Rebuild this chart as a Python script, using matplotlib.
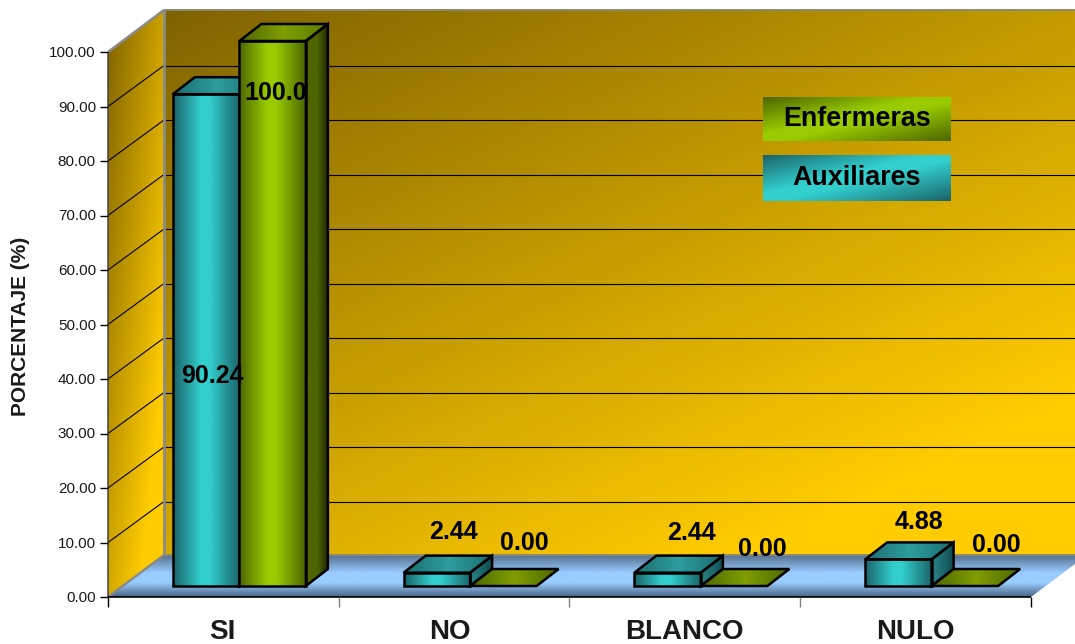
"""Grouped pseudo-3D bar chart of survey responses per staff group."""
import matplotlib
matplotlib.use("Agg")
import matplotlib.pyplot as plt
import numpy as np
from matplotlib.colors import LinearSegmentedColormap
from matplotlib.patches import Polygon

plt.rcParams["font.family"] = ["Liberation Sans", "DejaVu Sans"]

categories = ["SI", "NO", "BLANCO", "NULO"]
auxiliares = [90.24, 2.44, 2.44, 4.88]
enfermeras = [100.0, 0.0, 0.0, 0.0]
auxiliares_text = ["90.24", "2.44", "2.44", "4.88"]
enfermeras_text = ["100.0", "0.00", "0.00", "0.00"]
y_ticks = [0, 10, 20, 30, 40, 50, 60, 70, 80, 90, 100]
y_title = "PORCENTAJE (%)"
legend_names = ["Enfermeras", "Auxiliares"]

# layout, in figure pixels
W, H = 1075, 644
LEFT, BASE = 108, 597
CAT_W = 230.75
UNIT = 5.45
WALL_DX, WALL_DY = 56, 42
GRID_DY = 41
BAR_DX, BAR_DY = 22, 17
BAR_W = 66.5
BAR_SHIFT, BAR_BASE = 16, 586

CYAN = ("#1a6468", "#33cfcf", "#33cfcf", "#1a6468")
CYAN_SIDE = ("#2a8284", "#1c686c", "#0f4a4e")
CYAN_TOP = ("#1c6c70", "#2c9e9e", "#1c6c70")
GREEN = ("#4d6600", "#99cc00", "#99cc00", "#4d6600")
GREEN_SIDE = ("#4d6600", "#4d6600", "#202a00")
GREEN_TOP = ("#4d6600", "#7f9f00", "#5c7a00")
GREEN_FLAT = ("#4d6600", "#7f9f00", "#4d6600")
BAND_STOPS = [0, 0.42, 0.55, 1]


def px(x):
    return (x - LEFT) / CAT_W


def py(y):
    return (BASE - y) / UNIT


fig = plt.figure(figsize=(W / 100, H / 100), dpi=100)
ax = fig.add_axes([0, 0, 1, 1])
ax.axis("off")


def shade(points, colors, wx=1.0, wy=0.0, z=1, stops=None):
    """Fill a polygon (pixel coords) with a linear gradient; wy runs downwards."""
    xy = np.array([(px(a), py(b)) for a, b in points])
    u, v = np.meshgrid(np.linspace(0, 1, 128), np.linspace(0, 1, 128))
    t = np.clip(wx * u + wy * v, 0, 1)
    pos = stops if stops else np.linspace(0, 1, len(colors))
    cmap = LinearSegmentedColormap.from_list("g", list(zip(pos, colors)))
    patch = Polygon(xy, closed=True, fc="none", ec="none", zorder=z)
    ax.add_patch(patch)
    im = ax.imshow(t, cmap=cmap, vmin=0, vmax=1, origin="upper", aspect="auto",
                   interpolation="bilinear", zorder=z,
                   extent=(xy[:, 0].min(), xy[:, 0].max(), xy[:, 1].min(), xy[:, 1].max()))
    im.set_clip_path(patch)


def outline(points, z, color="black", lw=1.8):
    xy = [(px(a), py(b)) for a, b in points]
    ax.add_patch(Polygon(xy, closed=True, fc="none", ec=color, lw=lw, zorder=z, joinstyle="miter"))


def segment(x0, y0, x1, y1, z=3, color="black", lw=0.8):
    ax.plot([px(x0), px(x1)], [py(y0), py(y1)], color=color, lw=lw, zorder=z, solid_capstyle="butt")


def draw_bar(x, value, front, side, top, flat, z):
    height = value * UNIT
    y_top = BAR_BASE - height
    face = [(x, BAR_BASE), (x + BAR_W, BAR_BASE), (x + BAR_W, y_top), (x, y_top)]
    lid = [(x, y_top), (x + BAR_W, y_top), (x + BAR_W + BAR_DX, y_top - BAR_DY), (x + BAR_DX, y_top - BAR_DY)]
    if value == 0:
        shade(lid, flat, z=z)
        outline(lid, z + 0.5)
        return
    flank = [(x + BAR_W, BAR_BASE), (x + BAR_W + BAR_DX, BAR_BASE - BAR_DY),
             (x + BAR_W + BAR_DX, y_top - BAR_DY), (x + BAR_W, y_top)]
    shade(lid, top, z=z)
    shade(flank, side, z=z)
    shade(face, front, z=z, stops=BAND_STOPS)
    outline(lid, z + 0.5)
    outline(flank, z + 0.5)
    outline(face, z + 0.5)


# walls and floor
back = [(LEFT + WALL_DX, BASE - WALL_DY), (W + 15, BASE - WALL_DY), (W + 15, 10), (LEFT + WALL_DX, 10)]
shade(back, ("#7f6300", "#ffcc00"), wx=0.54, wy=0.66)
side_wall = [(LEFT, BASE), (LEFT + WALL_DX, BASE - WALL_DY), (LEFT + WALL_DX, 10), (LEFT, 52)]
shade(side_wall, ("#7f6300", "#ffcc00"), wx=0.6, wy=0.66)
floor = [(LEFT, BASE), (LEFT + WALL_DX, BASE - WALL_DY), (LEFT + 4 * CAT_W + WALL_DX, BASE - WALL_DY), (LEFT + 4 * CAT_W, BASE)]
shade(floor, ("#56708e", "#99ccff", "#99ccff", "#4a6482"), wx=0, wy=1, stops=[0, 0.42, 0.66, 1])

# grid on the back and side walls
for tick in y_ticks[1:-1]:
    y = BASE - tick * UNIT
    segment(LEFT, y, LEFT + WALL_DX, y - GRID_DY)
    segment(LEFT + WALL_DX, y - GRID_DY, W + 15, y - GRID_DY)

segment(LEFT + WALL_DX, 10, W + 15, 10, z=3.5, color="#8a8a70", lw=1.4)
segment(LEFT, 52, LEFT + WALL_DX, 10, z=3.5, color="#8a8a8a", lw=1.8)
segment(LEFT + WALL_DX, 10, LEFT + WALL_DX, BASE - WALL_DY, z=3.5, color="#8a8a8a", lw=2.0)
segment(LEFT, BASE, LEFT + WALL_DX, BASE - WALL_DY, z=3.5, color="#8a8a8a", lw=1.8)
segment(LEFT + WALL_DX, BASE - WALL_DY, W + 15, BASE - WALL_DY, z=3.5, color="#8a8a70", lw=1.4)

# front axes
segment(LEFT, 52, LEFT, BASE, z=4, color="#444444", lw=1.1)
segment(LEFT, BASE, LEFT + 4 * CAT_W, BASE, z=4, lw=1.2)
for tick in y_ticks:
    y = BASE - tick * UNIT
    segment(LEFT - 8, y, LEFT, y, z=4, lw=1.0)
    ax.text(px(LEFT - 12), py(y + 1), f"{tick:.2f}", ha="right", va="center", fontsize=11, color="#1a1a1a")
for i in range(len(categories) + 1):
    x = LEFT + i * CAT_W
    end_tick = i in (0, len(categories))
    segment(x, BASE, x, BASE + 10, z=4, lw=1.0, color="black" if end_tick else "#808080")
cat_label_x = [222.5, 450, 684, 915]
for name, lx in zip(categories, cat_label_x):
    ax.text(px(lx), py(632), name, ha="center", va="center",
            fontsize=20, fontweight="bold", color="#1a1a1a")
ax.text(px(21), py(326), y_title, rotation=90, ha="center", va="center",
        fontsize=15, fontweight="bold", color="#1a1a1a")

# bars
for i in range(len(categories)):
    center = LEFT + (i + 0.5) * CAT_W + BAR_SHIFT
    draw_bar(center - BAR_W, auxiliares[i], CYAN, CYAN_SIDE, CYAN_TOP, GREEN_FLAT, z=5)
    draw_bar(center, enfermeras[i], GREEN, GREEN_SIDE, GREEN_TOP, GREEN_FLAT, z=6)

# value labels
aux_label_xy = [(212, 376), (453, 532), (691, 533), (919, 522)]
enf_label_xy = [(276, 93), (524, 543), (762, 549), (996, 545)]
for (lx, ly), text in zip(aux_label_xy + enf_label_xy, auxiliares_text + enfermeras_text):
    ax.text(px(lx), py(ly), text, ha="center", va="center", fontsize=18,
            fontweight="bold", color="black", zorder=9)

# legend
legend_boxes = [(763, 97, 951, 141), (763, 155, 951, 201)]
legend_fills = [("#4d6600", "#99cc00", "#99cc00", "#4d6600"), ("#1a6468", "#33cfcf", "#33cfcf", "#1a6468")]
legend_label_y = [119.5, 178]
for (x0, y0, x1, y1), fill, name, ly in zip(legend_boxes, legend_fills, legend_names, legend_label_y):
    shade([(x0, y0), (x1, y0), (x1, y1), (x0, y1)], fill, wx=0.5, wy=0.5, z=7, stops=BAND_STOPS)
    ax.text(px((x0 + x1) / 2), py(ly), name, ha="center", va="center",
            fontsize=19.4, fontweight="bold", color="black", zorder=9)

ax.set_xlim(px(0), px(W))
ax.set_ylim(py(H), py(0))
fig.savefig("out.png", dpi=100, facecolor="white")
